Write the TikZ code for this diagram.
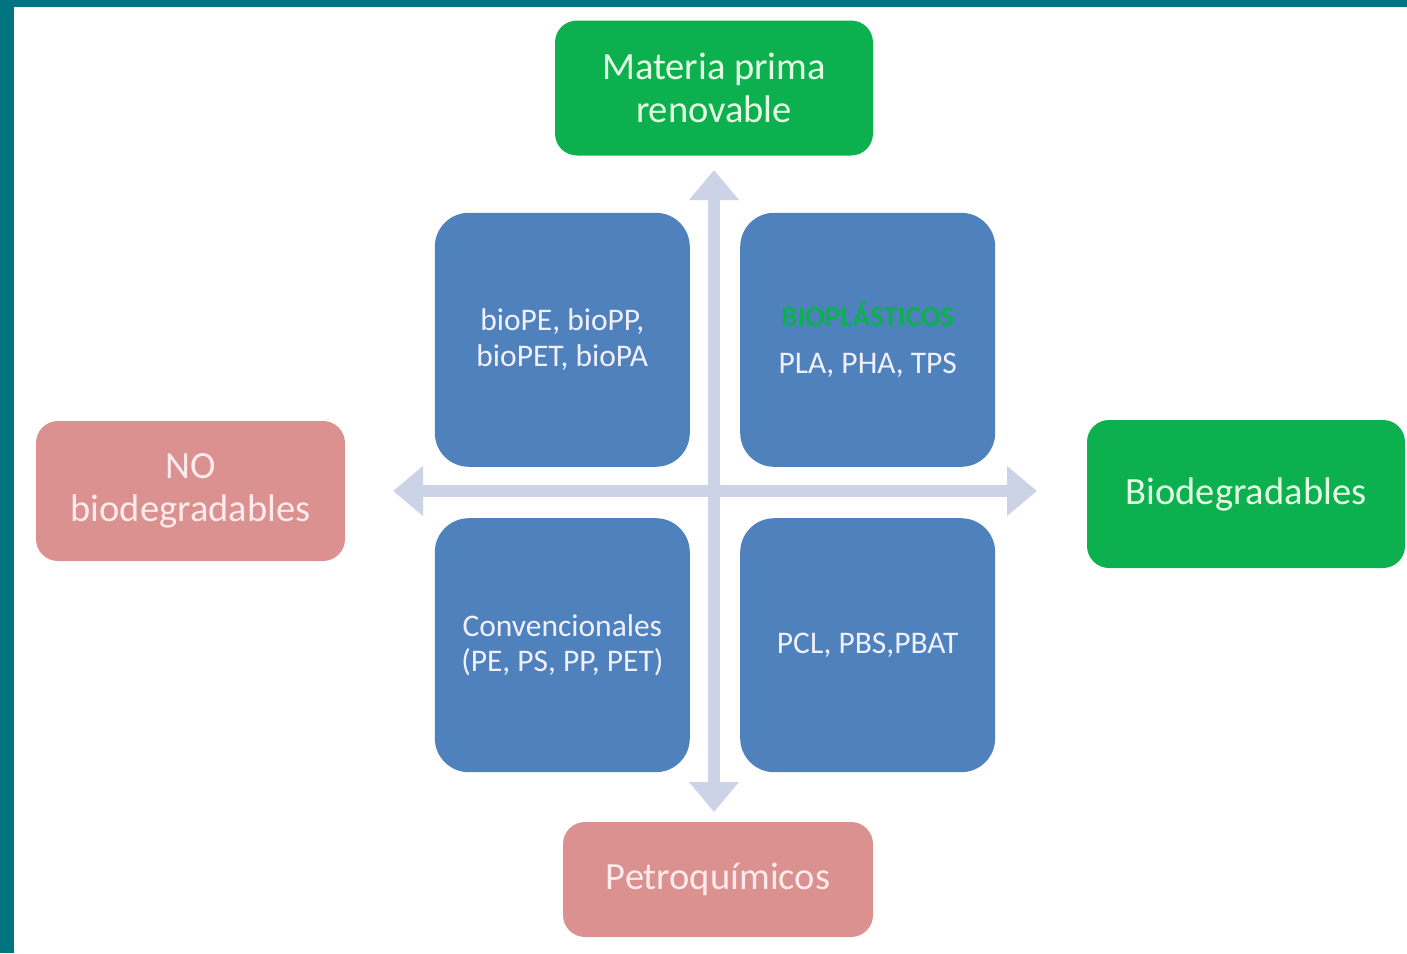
\documentclass[tikz,border=0pt]{standalone}
\usepackage{fontspec}
\setmainfont{Carlito}
\usepackage{tikz}
\usetikzlibrary{positioning}
\usetikzlibrary{arrows.meta}

\definecolor{teal0}{HTML}{007580}
\definecolor{verde}{HTML}{0DB04F}
\definecolor{azul}{HTML}{4F81BD}
\definecolor{rosa}{HTML}{DA9190}
\definecolor{flecha}{HTML}{CDD3E6}

\begin{document}
\begin{tikzpicture}[x=1pt, y=-1pt,
  box/.style = {rounded corners=22pt, align=center, inner sep=0pt, font=\fontsize{38.5}{43}\selectfont},
  green/.style = {box, fill=verde, text=green!10!white},
  pink/.style = {box, fill=rosa, text=red!8!white},
  quad/.style = {box, fill=azul, text=blue!6!white, rounded corners=34pt, minimum width=255pt, minimum height=254pt, font=\fontsize{31.5}{35.5}\selectfont},
  axis/.style = {flecha, line width=12pt, {Triangle[width=48pt,length=30pt]}-{Triangle[width=48pt,length=30pt]}}]
  \useasboundingbox (0,0) rectangle (1407,953);
  \fill[teal0] (0,0) rectangle (1407,7);
  \fill[teal0] (0,0) rectangle (14,953);
          \coordinate (c) at (715,493);
          \coordinate (n) at (714,170);
          \coordinate (s) at (714,812);
          \coordinate (w) at (393,491);
          \coordinate (e) at (1037,491);
          \draw[axis] (n) -- (s);
          \draw[axis] (w) -- (e);
          \node[quad](bio)[above left=26pt and 25pt of c]{bioPE, bioPP,\\bioPET, bioPA};
          \node[quad](biopl)[above right=26pt and 25pt of c]{\textcolor{verde}{\fontsize{29}{30}\selectfont\bfseries BIOPLÁSTICOS}\\[12pt]PLA, PHA, TPS};
          \node[quad](conv)[below left=25pt and 25pt of c]{Convencionales\\(PE, PS, PP, PET)};
          \node[quad](pcl)[below right=25pt and 25pt of c]{PCL, PBS,PBAT};
          \node[green, minimum width=318pt, minimum height=135pt](mat) at (714,88){Materia prima\\renovable};
          \node[green, minimum width=318pt, minimum height=148pt](bdg) at (1246,494){Biodegradables};
          \node[pink, minimum width=309pt, minimum height=140pt](nobdg) at (190.5,491){NO\\biodegradables};
          \node[pink, minimum width=310pt, minimum height=115pt](petro) at (718,879.5){Petroquímicos};
        \end{tikzpicture}
\end{document}
